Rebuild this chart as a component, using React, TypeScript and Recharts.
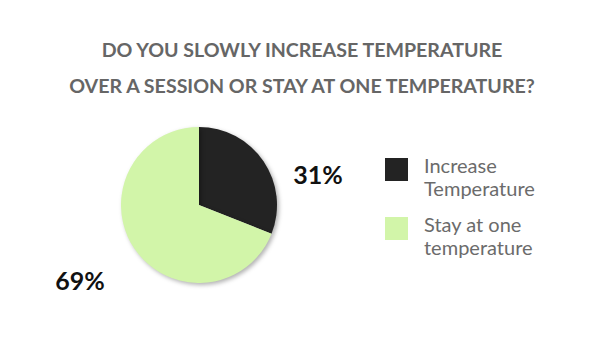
import React from 'react';
import { PieChart, Pie, Cell, Legend } from 'recharts';

const categories = ['Increase Temperature', 'Stay at one temperature'];
const legendLines = [['Increase', 'Temperature'], ['Stay at one', 'temperature']];
const shares = [31, 69];
const colors = ['#232323', '#d2f5a9'];

const titleLines = ['DO YOU SLOWLY INCREASE TEMPERATURE', 'OVER A SESSION OR STAY AT ONE TEMPERATURE?'];

const data = categories.map((name, i) => ({ name, value: shares[i] }));

const RADIAN = Math.PI / 180;

const renderLabel = (props: any) => {
  const { cx, cy, midAngle, outerRadius, value } = props;
  const r = outerRadius + 66;
  const x = cx + r * Math.cos(-midAngle * RADIAN);
  // upper slice label sits lower, beside the pie edge
  const y = Math.sin(-midAngle * RADIAN) < 0 ? cy - 31 : cy + 75;
  return (
    <text x={x} y={y} fill="#111" fontSize={25} fontWeight={700} fontFamily="Lato" textAnchor="middle" dominantBaseline="central">
      {value}%
    </text>
  );
};

const renderLegend = () => (
  <div>
    {legendLines.map((lines, i) => (
      <div key={i} style={{ display: 'flex', alignItems: 'flex-start', marginBottom: i === 0 ? 13 : 0 }}>
        <div style={{ width: 23, height: 23, background: colors[i], marginTop: 4, marginRight: 16 }} />
        <div style={{ color: '#6b6b6b', fontSize: 20, lineHeight: '23px', fontFamily: 'Lato' }}>
          {lines.map((l) => <div key={l}>{l}</div>)}
        </div>
      </div>
    ))}
  </div>
);

export default function App() {
  return (
    <div style={{ position: 'absolute', left: 0, top: 0, width: 604, height: 364, background: '#fff' }}>
      <div style={{ position: 'absolute', left: 0, top: 32, width: 604, textAlign: 'center', color: '#666', fontFamily: 'Lato', fontWeight: 700, fontSize: 19.6, lineHeight: '36px' }}>
        {titleLines.map((t) => <div key={t}>{t}</div>)}
      </div>
      <PieChart width={604} height={364} margin={{ top: 0, right: 0, bottom: 0, left: 0 }} style={{ position: 'absolute', left: 0, top: 0 }}>
        <Pie
          data={data}
          dataKey="value"
          cx={199}
          cy={205}
          outerRadius={78}
          startAngle={90}
          endAngle={-270}
          stroke="none"
          label={renderLabel}
          labelLine={false}
          isAnimationActive={false}
        >
          {data.map((d, i) => (
            <Cell key={d.name} fill={colors[i]} style={{ filter: 'drop-shadow(2px 2px 2px rgba(0,0,0,0.3))' }} />
          ))}
        </Pie>
        <Legend
          layout="vertical"
          content={renderLegend}
          wrapperStyle={{ position: 'absolute', left: 385, top: 154, width: 200 }}
        />
      </PieChart>
    </div>
  );
}
